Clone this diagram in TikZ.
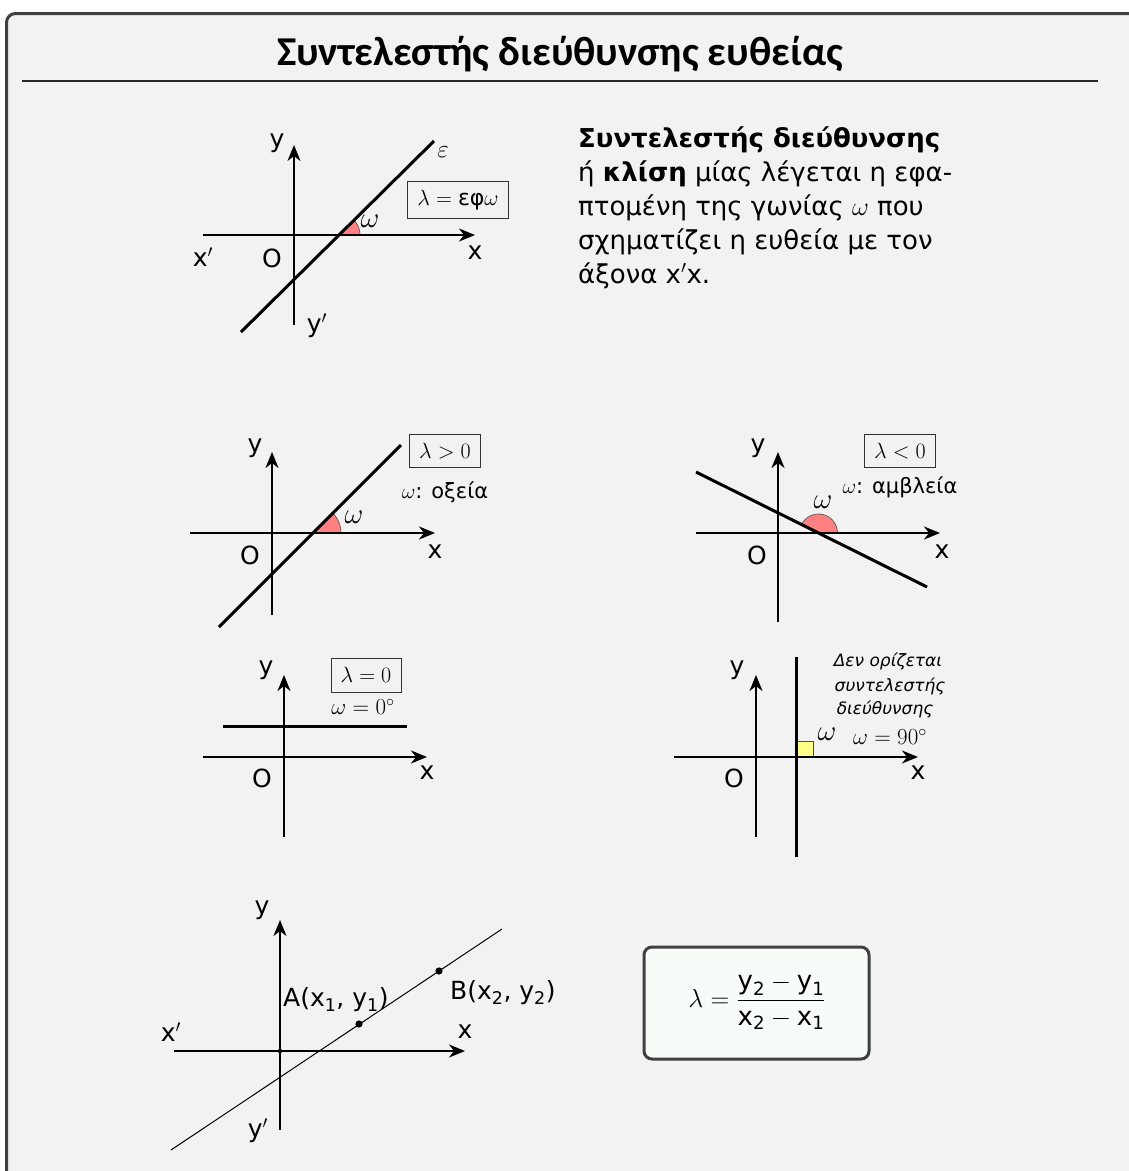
\documentclass[tikz,border=0pt]{standalone}
\usepackage{fix-cm}
\usepackage{fontspec}
\usepackage{amsmath}
\newfontfamily\dvs{DejaVu Sans}
\newfontfamily\ttlfont{Carlito}
\usetikzlibrary{arrows.meta}
\definecolor{bgc}{HTML}{F2F2F2}
\definecolor{framec}{HTML}{404040}
\definecolor{angred}{HTML}{FF8080}
\definecolor{angyel}{HTML}{FFFF88}
\definecolor{fboxc}{HTML}{F8FCF8}
\newcommand{\fsz}[1]{\fontsize{#1}{#1}\selectfont}
\newcommand{\sn}[1]{\text{\dvs #1}}
\begin{document}
\begin{tikzpicture}[x=1pt,y=-1pt,
  axis/.style={line width=2pt,-{Stealth[length=16pt,width=13pt,inset=5pt]}},
  lineeps/.style={line width=3pt},
  thinline/.style={line width=1pt},
  lbl/.style={font=\dvs\fsz{25},inner sep=0pt},
  mlbl/.style={font=\fsz{29},inner sep=0pt},
  lbox/.style={draw=black!80,line width=0.8pt,inner sep=0pt,font=\fsz{22},minimum width=71pt,minimum height=33pt},
  note/.style={font=\dvs\fsz{21},inner sep=0pt},
  remark/.style={font=\dvs\itshape\fsz{17},inner sep=0pt},
  body/.style={font=\dvs\fsz{26},anchor=base west,inner sep=0pt},
  arcedge/.style={draw=black!70,line width=0.6pt},
]
\useasboundingbox (0,0) rectangle (1129,1171);
\begin{scope}
\clip (0,0) rectangle (1129,1171);
\draw[framec,line width=3pt,fill=bgc,rounded corners=9pt] (6.5,13.5) rectangle (1160,1200);
\end{scope}

% title
\node[font=\ttlfont\bfseries\fsz{41},inner sep=0pt,anchor=base] (title) at (560,65) {Συντελεστής διεύθυνσης ευθείας};
\coordinate (tl) at (22,81);
\coordinate (tr) at (1098,81);
\draw[line width=1.3pt,black!85] (tl) -- (tr);

% ---------- diagram 1 ----------
\fill[angred] (339,235) -- plot[domain=0:44.7,samples=24] ({339+21*cos(\x)},{235-21*sin(\x)}) -- cycle;
\draw[arcedge] plot[domain=0:44.7,samples=24] ({339+21*cos(\x)},{235-21*sin(\x)});
\coordinate (a1b) at (294,325); \coordinate (a1t) at (294,145);
\coordinate (a1l) at (203,235); \coordinate (a1r) at (475,235);
\coordinate (e1s) at (241,332); \coordinate (e1e) at (434,141);
\draw[axis] (a1b) -- (a1t);
\draw[axis] (a1l) -- (a1r);
\draw[lineeps] (e1s) -- (e1e);
\node[lbl] (y1) at (277,143) {y};
\node[lbl] (xp1) at (203,257) {x$'$};
\node[lbl] (o1) at (272,258) {O};
\node[lbl] (x1) at (475,253) {x};
\node[lbl] (yp1) at (317,326) {y$'$};
\node[mlbl,font=\fsz{25}] (eps1) at (443,152) {$\varepsilon$};
\node[mlbl] (om1) at (370,221) {$\omega$};
\node[lbox,minimum width=101pt,minimum height=37pt] (box1) at (458,200) {$\lambda = \text{\dvs εφ}\omega$};

% paragraph
\node[body] (p1) at (578,147) {\bfseries Συντελεστής διεύθυνσης};
\node[body] (p2) at (578,181) {ή \textbf{κλίση} μίας λέγεται η εφα-};
\node[body] (p3) at (578,215) {πτομένη της γωνίας $\omega$ που};
\node[body] (p4) at (578,249) {σχηματίζει η ευθεία με τον};
\node[body] (p5) at (578,283) {άξονα x$'$x.};

% ---------- diagram 2 ----------
\fill[angred] (313,533) -- plot[domain=0:45,samples=24] ({313+28*cos(\x)},{533-28*sin(\x)}) -- cycle;
\draw[arcedge] plot[domain=0:45,samples=24] ({313+28*cos(\x)},{533-28*sin(\x)});
\coordinate (a2b) at (272,615); \coordinate (a2t) at (272,452);
\coordinate (a2l) at (190,533); \coordinate (a2r) at (435,533);
\coordinate (e2s) at (219,627); \coordinate (e2e) at (401,445);
\draw[axis] (a2b) -- (a2t);
\draw[axis] (a2l) -- (a2r);
\draw[lineeps] (e2s) -- (e2e);
\node[lbl] (y2) at (255,448) {y};
\node[lbl] (o2) at (250,555) {O};
\node[lbl] (x2) at (435,552) {x};
\node[mlbl] (om2) at (354,517) {$\omega$};
\node[lbox] (box2) at (445,451) {$\lambda > 0$};
\node[note] (n2) at (445,492) {$\omega$: οξεία};

% ---------- diagram 3 ----------
\fill[angred] (818.5,533) -- plot[domain=0:153.5,samples=40] ({818.5+19*cos(\x)},{533-19*sin(\x)}) -- cycle;
\draw[arcedge] plot[domain=0:153.5,samples=40] ({818.5+19*cos(\x)},{533-19*sin(\x)});
\coordinate (a3b) at (778,622); \coordinate (a3t) at (778,452);
\coordinate (a3l) at (696,533); \coordinate (a3r) at (940,533);
\coordinate (e3s) at (696,472); \coordinate (e3e) at (927,587);
\draw[axis] (a3b) -- (a3t);
\draw[axis] (a3l) -- (a3r);
\draw[lineeps] (e3s) -- (e3e);
\node[lbl] (y3) at (758,448) {y};
\node[lbl] (o3) at (757,555) {O};
\node[lbl] (x3) at (942,552) {x};
\node[mlbl] (om3) at (823,502) {$\omega$};
\node[lbox] (box3) at (900,451) {$\lambda < 0$};
\node[note] (n3) at (900,487) {$\omega$: αμβλεία};

% ---------- diagram 4 ----------
\coordinate (a4b) at (284,837); \coordinate (a4t) at (284,675);
\coordinate (a4l) at (203,757); \coordinate (a4r) at (427,757);
\coordinate (h4s) at (223,726); \coordinate (h4e) at (407,726);
\draw[axis] (a4b) -- (a4t);
\draw[axis] (a4l) -- (a4r);
\draw[lineeps] (h4s) -- (h4e);
\node[lbl] (y4) at (266,670) {y};
\node[lbl] (o4) at (262,778) {O};
\node[lbl] (x4) at (427,773) {x};
\node[lbox,minimum width=70pt,minimum height=34pt] (box4) at (366,675) {$\lambda = 0$};
\node[font=\fsz{23},inner sep=0pt] (n4) at (363,707) {$\omega = 0^\circ$};

% ---------- diagram 5 ----------
\coordinate (a5b) at (756,837); \coordinate (a5t) at (756,675);
\coordinate (a5l) at (674,757); \coordinate (a5r) at (918,757);
\coordinate (v5s) at (796,657); \coordinate (v5e) at (796,857);
\draw[fill=angyel,draw=black!70,line width=0.8pt] (797,741) rectangle (813,757);
\draw[axis] (a5b) -- (a5t);
\draw[axis] (a5l) -- (a5r);
\draw[lineeps] (v5s) -- (v5e);
\node[lbl] (y5) at (737,670) {y};
\node[lbl] (o5) at (734,778) {O};
\node[lbl] (x5) at (918,773) {x};
\node[mlbl] (om5) at (827,734) {$\omega$};
\node[font=\fsz{23},inner sep=0pt] (n5) at (890,737) {$\omega = 90^\circ$};
\node[remark] (r5a) at (888,661) {Δεν ορίζεται};
\node[remark] (r5b) at (890,686) {συντελεστής};
\node[remark] (r5c) at (885,709) {διεύθυνσης};

% ---------- diagram 6 ----------
\coordinate (a6b) at (280,1130); \coordinate (a6t) at (280,920);
\coordinate (a6l) at (174,1051); \coordinate (a6r) at (465,1051);
\coordinate (l6s) at (171,1150); \coordinate (l6e) at (502,929);
\coordinate (O6) at (280,1051);
\coordinate (A6) at (359,1024);
\coordinate (B6) at (439,971);
\draw[axis] (a6b) -- (a6t);
\draw[axis] (a6l) -- (a6r);
\draw[thinline] (l6s) -- (l6e);
\fill (O6) circle (2.2pt);
\fill (A6) circle (3.6pt);
\fill (B6) circle (3.6pt);
\node[lbl] (y6) at (262,910) {y};
\node[lbl] (xp6) at (171,1032) {x$'$};
\node[lbl] (x6) at (465,1032) {x};
\node[lbl] (yp6) at (258,1131) {y$'$};
\node[lbl,anchor=west] (Alab) at (283,1000) {A(x\textsubscript{1}, y\textsubscript{1})};
\node[lbl,anchor=west] (Blab) at (450,993) {B(x\textsubscript{2}, y\textsubscript{2})};

% formula box
\node[draw=framec,line width=3pt,fill=fboxc,rounded corners=8pt,minimum width=225pt,minimum height=112pt,inner sep=0pt] (fbox) at (756.5,1003) {};
\node[font=\fsz{26},inner sep=0pt] (frm) at (757,1002) {$\lambda = \dfrac{\sn{y}_{\sn{2}} - \sn{y}_{\sn{1}}}{\sn{x}_{\sn{2}} - \sn{x}_{\sn{1}}}$};
\end{tikzpicture}
\end{document}
